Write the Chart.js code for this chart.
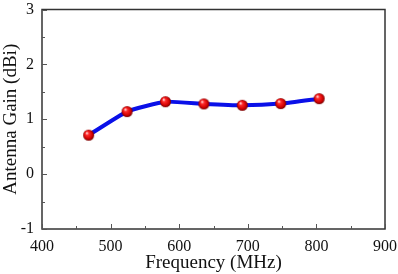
<!DOCTYPE html>
<html>
<head>
<meta charset="utf-8">
<script src="https://cdn.jsdelivr.net/npm/chart.js@4.4.1/dist/chart.umd.min.js"></script>
<style>
html,body{margin:0;padding:0;background:#fff;}
#wrap{width:398px;height:274px;position:relative;}
</style>
</head>
<body>
<div id="wrap"><canvas id="c" width="398" height="274"></canvas></div>
<script>
// Data
const frequencies = [468, 524, 580, 636, 692, 748, 804];
const gains = [0.71, 1.14, 1.32, 1.28, 1.255, 1.285, 1.375];
const xTickValues = [400, 500, 600, 700, 800, 900];
const yTickValues = [-1, 0, 1, 2, 3];
const xMinorTicks = [450, 550, 650, 750, 850];
const yMinorTicks = [-0.5, 0.5, 1.5, 2.5];

// Sphere-like marker
function makeBall(r) {
  const s = r * 2 + 2;
  const cv = document.createElement('canvas');
  cv.width = s; cv.height = s;
  const g = cv.getContext('2d');
  const c = s / 2;
  const grad = g.createRadialGradient(c - r * 0.35, c - r * 0.4, r * 0.1, c, c, r);
  grad.addColorStop(0, '#ffd0d0');
  grad.addColorStop(0.25, '#ff2a2a');
  grad.addColorStop(0.75, '#d00000');
  grad.addColorStop(1, '#700000');
  g.fillStyle = grad;
  g.beginPath(); g.arc(c, c, r, 0, Math.PI * 2); g.fill();
  return cv;
}
const ball = makeBall(5.5);

const frame = {
  id: 'frame',
  afterDatasetsDraw(chart) {
    const {ctx, chartArea: a, scales: {x, y}} = chart;
    ctx.save();
    ctx.strokeStyle = '#333';
    ctx.lineWidth = 1.5;
    ctx.strokeRect(a.left, a.top, a.right - a.left, a.bottom - a.top);
    ctx.lineWidth = 1;
    ctx.strokeStyle = '#555';
    ctx.beginPath();
    xTickValues.concat(xMinorTicks).forEach(v => {
      const px = Math.round(x.getPixelForValue(v)) + 0.5;
      const len = xTickValues.includes(v) ? 5 : 3;
      ctx.moveTo(px, a.bottom); ctx.lineTo(px, a.bottom - len);
    });
    yTickValues.concat(yMinorTicks).forEach(v => {
      const py = Math.round(y.getPixelForValue(v)) + 0.5;
      const len = yTickValues.includes(v) ? 5 : 3;
      ctx.moveTo(a.left, py); ctx.lineTo(a.left + len, py);
    });
    ctx.stroke();
    ctx.restore();
  }
};

new Chart(document.getElementById('c'), {
  type: 'line',
  data: {
    datasets: [{
      data: frequencies.map((f, i) => ({x: f, y: gains[i]})),
      borderColor: '#0a10e8',
      borderWidth: 4,
      pointStyle: ball,
      pointRadius: 5.5,
      tension: 0.15,
      fill: false
    }]
  },
  options: {
    responsive: false,
    animation: false,
    layout: {padding: {top: 5, right: 13, left: 0, bottom: 0}},
    plugins: {legend: {display: false}, tooltip: {enabled: false}},
    scales: {
      x: {
        type: 'linear', min: 400, max: 900,
        afterBuildTicks: s => { s.ticks = xTickValues.map(v => ({value: v})); },
        afterFit: s => { s.height = 45; s.paddingLeft = 0; s.paddingRight = 0; },
        grid: {display: false, drawTicks: false},
        border: {display: false},
        ticks: {color: '#111', padding: 8, font: {family: 'Liberation Serif', size: 16}},
        title: {display: true, text: 'Frequency (MHz)', color: '#111', padding: {top: 0, bottom: 0},
                font: {family: 'Liberation Serif', size: 19}}
      },
      y: {
        min: -1, max: 3,
        afterBuildTicks: s => { s.ticks = yTickValues.map(v => ({value: v})); },
        afterFit: s => { s.width = 42; s.paddingTop = 0; s.paddingBottom = 0; },
        grid: {display: false, drawTicks: false},
        border: {display: false},
        ticks: {color: '#111', padding: 8, font: {family: 'Liberation Serif', size: 16}},
        title: {display: true, text: 'Antenna Gain (dBi)', color: '#111', padding: {top: 0, bottom: 2},
                font: {family: 'Liberation Serif', size: 19}}
      }
    }
  },
  plugins: [frame]
});
</script>
</body>
</html>
